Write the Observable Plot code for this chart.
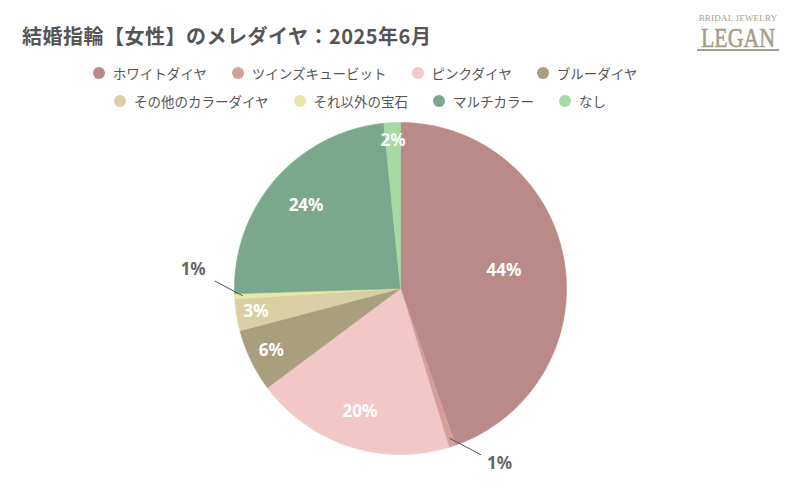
<!DOCTYPE html>
<html><head><meta charset="utf-8">
<script src="https://cdn.jsdelivr.net/npm/d3@7"></script>
<script src="https://cdn.jsdelivr.net/npm/@observablehq/plot@0.6"></script>
<style>
body{margin:0;background:#fff;}
#wrap{position:relative;width:800px;height:500px;overflow:hidden;font-family:"Noto Sans CJK JP","Noto Sans",sans-serif;background:#fff;}
#title{position:absolute;left:22px;top:26px;font-size:20px;line-height:20px;font-weight:700;color:#555;letter-spacing:0.5px;}
.legrow{position:absolute;left:0;width:730px;display:flex;justify-content:center;gap:25px;font-size:13.5px;line-height:16px;color:#555;}
.item{display:flex;align-items:center;gap:8px;}
.dot{width:12px;height:12px;border-radius:50%;}
#chart{position:absolute;left:0;top:0;}
#logo{position:absolute;left:697px;top:12px;width:82px;height:42px;color:#a39d8f;font-family:"Liberation Serif","DejaVu Serif",serif;}
#logo .b{position:absolute;left:0;top:1px;width:82px;text-align:center;font-size:9px;letter-spacing:0.2px;line-height:10px;}
#logo .l{position:absolute;left:4px;top:13px;font-size:28px;line-height:26px;white-space:nowrap;transform:scaleX(0.78);transform-origin:left top;-webkit-text-stroke:0.6px #a39d8f;}
#logo .u{position:absolute;left:0;top:37px;width:82px;height:2px;background:#a39d8f;}
</style></head>
<body>
<div id="wrap">
  <div id="chart"></div>
  <div id="title">結婚指輪【女性】のメレダイヤ：2025年6月</div>
  <div id="logo"><div class="b">BRIDAL JEWELRY</div><div class="l">LEGAN</div><div class="u"></div></div>
  <div class="legrow" id="row1" style="top:65px"></div>
  <div class="legrow" id="row2" style="top:93px;width:720px"></div>
</div>
<script>
const categories = ["ホワイトダイヤ","ツインズキュービット","ピンクダイヤ","ブルーダイヤ","その他のカラーダイヤ","それ以外の宝石","マルチカラー","なし"];
const shares = [44.6, 0.7, 19.5, 6.1, 3.1, 0.5, 23.9, 1.6];
const labels = ["44%","1%","20%","6%","3%","1%","24%","2%"];
const colors = ["#b98a87","#d49e9a","#f2c8c6","#a99e7d","#d9cfa3","#e8e6a8","#7ba88c","#a8d9a4"];

// legend
categories.forEach((c,i)=>{
  const row = document.getElementById(i<4?"row1":"row2");
  const it = document.createElement("div"); it.className="item";
  const d = document.createElement("span"); d.className="dot"; d.style.background=colors[i];
  const t = document.createElement("span"); t.textContent=c;
  it.appendChild(d); it.appendChild(t); row.appendChild(it);
});

const table = categories.map((c,i)=>({key:c, value:shares[i], label:labels[i]}));
const arcs = d3.pie().sort(null).value(d=>d.value)(table);

// slice polygons
const pts = [];
arcs.forEach(a=>{
  pts.push({key:a.data.key, x:0, y:0});
  const n = Math.max(2, Math.ceil((a.endAngle-a.startAngle)/(Math.PI/360)));
  for(let k=0;k<=n;k++){
    const t = a.startAngle + (a.endAngle-a.startAngle)*k/n;
    pts.push({key:a.data.key, x:Math.sin(t), y:Math.cos(t)});
  }
  pts.push({key:a.data.key, x:0, y:0});
});

const inside = [], outside = [], leaders = [];
arcs.forEach(a=>{
  const m = (a.startAngle+a.endAngle)/2;
  const v = a.data.value;
  if (v >= 1.5) {
    const r = 0.9 - 0.006*v;
    inside.push({x:r*Math.sin(m), y:r*Math.cos(m), label:a.data.label});
  } else {
    const sx = 0.95*Math.sin(m), sy = 0.95*Math.cos(m);
    const right = Math.sin(m) > 0;
    const ex = sx + (right?0.19:-0.17), ey = sy + (right?-0.1:0.09);
    const lx = sx + (right?0.30:-0.30), ly = sy + (right?-0.15:0.16);
    leaders.push({x1:sx,y1:sy,x2:ex,y2:ey});
    outside.push({x:lx,y:ly,label:a.data.label});
  }
});

const R = 166, cx = 400, cy = 288;
const chart = Plot.plot({
  width:800, height:500, margin:0,
  x:{domain:[-1,1], range:[cx-R, cx+R], axis:null},
  y:{domain:[-1,1], range:[cy+R, cy-R], axis:null},
  color:{domain:categories, range:colors},
  style:{background:"transparent", fontFamily:"'Noto Sans','DejaVu Sans',sans-serif"},
  marks:[
    Plot.line(pts, {x:"x", y:"y", z:"key", fill:"key", stroke:"key", strokeWidth:0.6, curve:"linear"}),
    Plot.link(leaders, {x1:"x1", y1:"y1", x2:"x2", y2:"y2", stroke:"#555", strokeWidth:1}),
    Plot.text(inside, {x:"x", y:"y", text:"label", fill:"white", fontSize:17, fontWeight:"bold"}),
    Plot.text(outside, {x:"x", y:"y", text:"label", fill:"#666", fontSize:17, fontWeight:"bold"})
  ]
});
document.getElementById("chart").appendChild(chart);
</script>
</body></html>
